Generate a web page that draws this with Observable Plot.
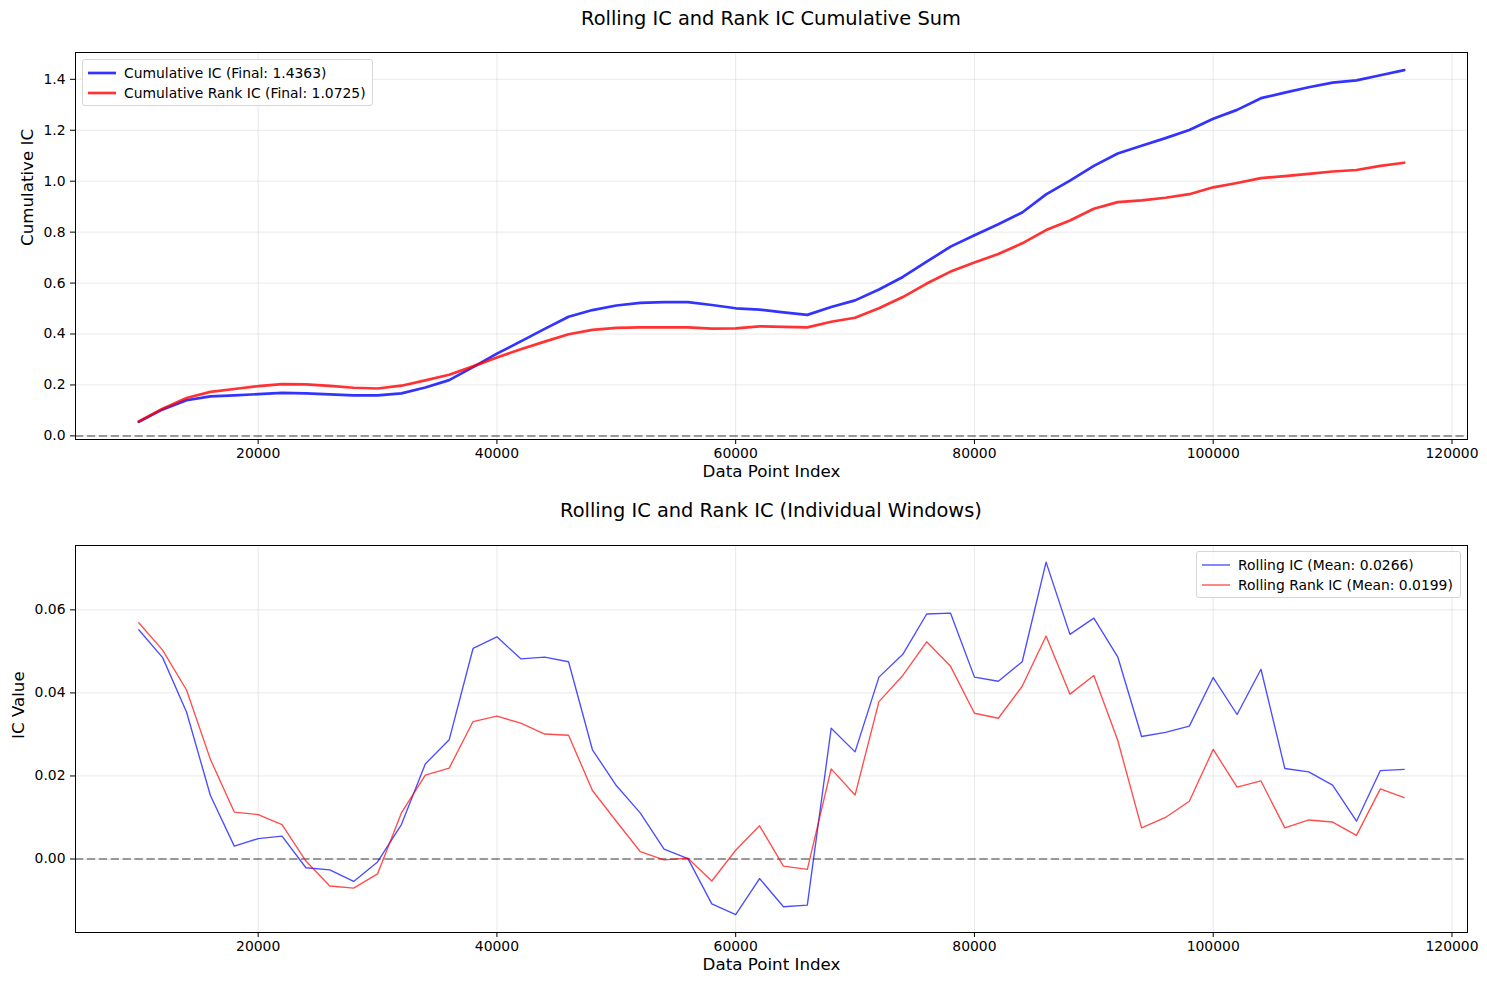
<!DOCTYPE html>
<html>
<head>
<meta charset="utf-8">
<script src="https://cdn.jsdelivr.net/npm/d3@7"></script>
<script src="https://cdn.jsdelivr.net/npm/@observablehq/plot@0.6"></script>
<style>
  body { margin: 0; background: #fff; font-family: "DejaVu Sans", sans-serif; }
  #fig { position: relative; width: 1487px; height: 989px; overflow: hidden; }
  .title { position: absolute; left: 75px; width: 1392px; text-align: center; font-size: 19.4px; color: #000; line-height: 22px; }
  .chart { position: absolute; left: 0; }
  .legend { position: absolute; background: rgba(255,255,255,0.8); border: 1px solid #d6d6d6; border-radius: 3px; box-sizing: border-box; font-size: 13.9px; color: #000; }
  .legend .row { position: absolute; left: 0; height: 20px; display: flex; align-items: center; white-space: nowrap; }
  .legend svg { margin-left: 5px; margin-right: 8px; }
</style>
</head>
<body>
<div id="fig">
  <div class="title" style="top:8px">Rolling IC and Rank IC Cumulative Sum</div>
  <div class="chart" id="top" style="top:40px"></div>
  <div class="title" style="top:500px">Rolling IC and Rank IC (Individual Windows)</div>
  <div class="chart" id="bottom" style="top:533px"></div>
  <div class="legend" id="legTop" style="left:82px;top:59px;width:291px;height:47px"></div>
  <div class="legend" id="legBot" style="left:1196px;top:551px;width:265px;height:47px"></div>
</div>
<script>
// ---- data ----
const dataIndex = [10000, 12000, 14000, 16000, 18000, 20000, 22000, 24000, 26000, 28000,
  30000, 32000, 34000, 36000, 38000, 40000, 42000, 44000, 46000, 48000,
  50000, 52000, 54000, 56000, 58000, 60000, 62000, 64000, 66000, 68000,
  70000, 72000, 74000, 76000, 78000, 80000, 82000, 84000, 86000, 88000,
  90000, 92000, 94000, 96000, 98000, 100000, 102000, 104000, 106000, 108000,
  110000, 112000, 114000, 116000];

const rollingIC = [0.0552, 0.0485, 0.0354, 0.0153, 0.0031, 0.0049, 0.0055, -0.0021, -0.0026, -0.0054,
  -0.0007, 0.0083, 0.0229, 0.0287, 0.0507, 0.0535, 0.0482, 0.0486, 0.0475, 0.0263,
  0.0177, 0.0111, 0.0024, 0.0001, -0.0108, -0.0134, -0.0047, -0.0115, -0.0111, 0.0315,
  0.0258, 0.0438, 0.0493, 0.0590, 0.0592, 0.0438, 0.0428, 0.0475, 0.0715, 0.0541,
  0.0580, 0.0487, 0.0295, 0.0305, 0.0320, 0.0437, 0.0348, 0.0457, 0.0218, 0.0210,
  0.0178, 0.0091, 0.0213, 0.0216];

const rollingRankIC = [0.0569, 0.0503, 0.0407, 0.0240, 0.0113, 0.0107, 0.0083, -0.0005, -0.0065, -0.0070,
  -0.0036, 0.0111, 0.0202, 0.0219, 0.0331, 0.0344, 0.0327, 0.0301, 0.0298, 0.0165,
  0.0091, 0.0018, -0.0002, 0.0002, -0.0053, 0.0021, 0.0080, -0.0017, -0.0025, 0.0217,
  0.0154, 0.0379, 0.0442, 0.0523, 0.0464, 0.0351, 0.0339, 0.0416, 0.0537, 0.0397,
  0.0442, 0.0286, 0.0075, 0.0100, 0.0139, 0.0264, 0.0173, 0.0188, 0.0075, 0.0094,
  0.0089, 0.0057, 0.0169, 0.0148];

const cumulativeIC = [0.055, 0.104, 0.140, 0.155, 0.159, 0.164, 0.169, 0.167, 0.163, 0.159,
  0.159, 0.167, 0.190, 0.219, 0.270, 0.323, 0.371, 0.420, 0.468, 0.494,
  0.512, 0.522, 0.525, 0.525, 0.514, 0.501, 0.496, 0.485, 0.475, 0.506,
  0.532, 0.575, 0.624, 0.684, 0.743, 0.788, 0.831, 0.877, 0.948, 1.002,
  1.060, 1.109, 1.139, 1.169, 1.201, 1.245, 1.280, 1.326, 1.348, 1.369,
  1.387, 1.396, 1.416, 1.436];

const cumulativeRankIC = [0.057, 0.107, 0.149, 0.173, 0.184, 0.195, 0.203, 0.202, 0.196, 0.189,
  0.186, 0.197, 0.218, 0.240, 0.273, 0.308, 0.340, 0.370, 0.399, 0.416,
  0.424, 0.426, 0.426, 0.426, 0.421, 0.422, 0.430, 0.428, 0.426, 0.448,
  0.464, 0.501, 0.545, 0.598, 0.645, 0.681, 0.714, 0.756, 0.808, 0.846,
  0.892, 0.918, 0.925, 0.935, 0.949, 0.976, 0.993, 1.012, 1.020, 1.029,
  1.038, 1.044, 1.060, 1.0725];

const xTicks = [20000, 40000, 60000, 80000, 100000, 120000];
const yTicksTop = [0.0, 0.2, 0.4, 0.6, 0.8, 1.0, 1.2, 1.4];
const yTicksBottom = [0.00, 0.02, 0.04, 0.06];

const seriesTop = ["Cumulative IC (Final: 1.4363)", "Cumulative Rank IC (Final: 1.0725)"];
const seriesBottom = ["Rolling IC (Mean: 0.0266)", "Rolling Rank IC (Mean: 0.0199)"];
const seriesColors = ["blue", "red"];

// ---- build tables ----
const topRows = dataIndex.flatMap((x, i) => [
  {x, y: cumulativeIC[i], s: seriesTop[0]},
  {x, y: cumulativeRankIC[i], s: seriesTop[1]}
]);
const botRows = dataIndex.flatMap((x, i) => [
  {x, y: rollingIC[i], s: seriesBottom[0]},
  {x, y: rollingRankIC[i], s: seriesBottom[1]}
]);

const W = 1487;
const common = {
  width: W,
  marginLeft: 75,
  marginRight: 20,
  marginTop: 12,
  marginBottom: 50,
  style: {fontFamily: "DejaVu Sans, sans-serif", fontSize: "13.9px", color: "#000", background: "#fff", overflow: "visible"},
  x: {domain: [4700, 121300]},
};

function gridMarks(yTicks) {
  return [
    Plot.gridX(xTicks, {stroke: "#b0b0b0", strokeOpacity: 0.35, strokeWidth: 0.8}),
    Plot.gridY(yTicks, {stroke: "#b0b0b0", strokeOpacity: 0.35, strokeWidth: 0.8}),
  ];
}

function axes(yTicks, yFmt, yLabel, yLabelDx) {
  return [
    Plot.axisX(xTicks, {tickFormat: d => String(d), tickSize: 5, tickPadding: 4, fontSize: 13.9, label: null}),
    Plot.axisY(yTicks, {tickFormat: yFmt, tickSize: 5, tickPadding: 5, fontSize: 13.9, label: null}),
    Plot.text(["Data Point Index"], {frameAnchor: "bottom", dy: 37, fontSize: 16.7, fill: "#000"}),
    Plot.text([yLabel], {frameAnchor: "left", dx: yLabelDx, rotate: -90, fontSize: 16.7, fill: "#000"}),
  ];
}

const zeroRule = Plot.ruleY([0], {stroke: "#000", strokeOpacity: 0.5, strokeWidth: 1.5, strokeDasharray: "8.3,3.6"});

const topChart = Plot.plot({
  ...common,
  height: 12 + 387 + 50,
  y: {domain: [-0.0142, 1.5053]},
  marks: [
    ...gridMarks(yTicksTop),
    zeroRule,
    Plot.line(topRows, {x: "x", y: "y", z: "s", stroke: d => seriesColors[seriesTop.indexOf(d.s)], strokeOpacity: 0.8, strokeWidth: 2.7, strokeLinejoin: "round"}),
    Plot.frame({stroke: "#000", strokeWidth: 1}),
    ...axes(yTicksTop, d => d.toFixed(1), "Cumulative IC", -48),
  ]
});
document.getElementById("top").appendChild(topChart);

const botChart = Plot.plot({
  ...common,
  height: 12 + 387 + 50,
  y: {domain: [-0.0177, 0.0755]},
  marks: [
    ...gridMarks(yTicksBottom),
    zeroRule,
    Plot.line(botRows, {x: "x", y: "y", z: "s", stroke: d => seriesColors[seriesBottom.indexOf(d.s)], strokeOpacity: 0.7, strokeWidth: 1.35, strokeLinejoin: "round"}),
    Plot.frame({stroke: "#000", strokeWidth: 1}),
    ...axes(yTicksBottom, d => d.toFixed(2), "IC Value", -57),
  ]
});
document.getElementById("bottom").appendChild(botChart);

// ---- legends ----
function legend(el, labels, width, opacity) {
  labels.forEach((lab, i) => {
    const row = document.createElement("div");
    row.className = "row";
    row.style.top = (3 + i * 20) + "px";
    row.innerHTML = `<svg width="28" height="10"><line x1="0" y1="5" x2="28" y2="5" stroke="${seriesColors[i]}" stroke-opacity="${opacity}" stroke-width="${width}"/></svg><span>${lab}</span>`;
    el.appendChild(row);
  });
}
legend(document.getElementById("legTop"), seriesTop, 2.7, 0.8);
legend(document.getElementById("legBot"), seriesBottom, 1.35, 0.7);
</script>
</body>
</html>
